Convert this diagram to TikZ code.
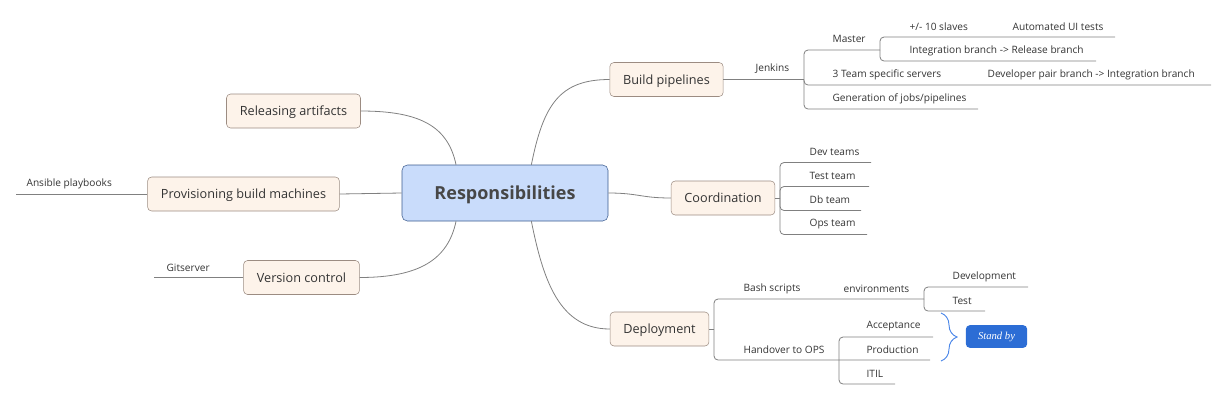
\documentclass[tikz,border=0pt]{standalone}
\usepackage{fontspec}
\setmainfont{Open Sans}
\newfontfamily\standfont{Liberation Serif}
\usetikzlibrary{decorations.pathreplacing}
\definecolor{topicfill}{HTML}{FDF3EA}
\definecolor{topicline}{HTML}{9C8C82}
\definecolor{rootfill}{HTML}{C9DCFB}
\definecolor{rootline}{HTML}{3B5B8E}
\definecolor{textcol}{HTML}{333333}
\definecolor{bracecol}{HTML}{4A86E8}
\definecolor{standfill}{HTML}{2C6DD5}
\newcommand{\linecol}{black!50}
\tikzset{
  topic/.style={draw=topicline, fill=topicfill, rounded corners=3pt, text=textcol,
    font=\fontsize{9.5}{11}\selectfont, inner xsep=10pt, minimum height=25.5pt,
    text height=7pt, text depth=0pt},
  lbl/.style={anchor=west, inner sep=1pt, text=textcol, font=\fontsize{7.6}{9}\selectfont},
  conn/.style={draw=\linecol, line width=0.6pt},
  elbow/.style={draw=\linecol, line width=0.6pt, rounded corners=3pt},
}
\begin{document}
\begin{tikzpicture}[x=0.75pt, y=-0.75pt]

    \useasboundingbox (0,0) rectangle (1230,400);

    % noeud central
    \node[draw=rootline, fill=rootfill, rounded corners=4pt, text=textcol!90,
      font=\fontsize{13.5}{15}\selectfont\bfseries, minimum width=154.5pt,
      minimum height=42pt, text height=9.5pt, text depth=0pt] (resp) at (505,193) {Responsibilities};

    \node[topic] (build) at (666.5,79.5) {Build pipelines};
    \node[topic] (coord) at (723,198) {Coordination};
    \node[topic] (deploy) at (659.5,329) {Deployment};
    \node[topic] (release) at (293.5,111) {Releasing artifacts};
    \node[topic] (prov) at (243.5,194) {Provisioning build machines};
    \node[topic] (vc) at (301.5,277.5) {Version control};

    \draw[conn] (resp.47) .. controls +(12,-60) and +(-50,0) .. (build.west);
    \draw[conn] (resp.east) .. controls +(30,0) and +(-30,0) .. (coord.west);
    \draw[conn] (resp.-47) .. controls +(12,60) and +(-50,0) .. (deploy.west);
    \draw[conn] (resp.150) .. controls +(-8,-38) and +(60,0) .. (release.east);
    \draw[conn] (resp.west) -- (prov.east);
    \draw[conn] (resp.210) .. controls +(-8,38) and +(60,0) .. (vc.east);

    % gauche
    \coordinate (ans) at (16,194);
    \coordinate (git) at (154,277.5);
    \draw[conn] (prov.west) -- (ans);
    \draw[conn] (vc.west) -- (git);
    \node[lbl] (ansl) at (25,184) {Ansible playbooks};
    \node[lbl] (gitl) at (165,268) {Gitserver};

    % build pipelines
    \coordinate (jk) at (804,79.5);
    \coordinate (ms) at (880,50);
    \coordinate (srv) at (1211,85);
    \coordinate (gen) at (978,109);
    \coordinate (slv) at (1115,37);
    \coordinate (intb) at (1096,61);
    \draw[conn] (build.east) -- (jk);
    \draw[elbow] (jk) |- (ms);
    \draw[elbow] (jk) |- (srv);
    \draw[elbow] (jk) |- (gen);
    \draw[elbow] (ms) |- (slv);
    \draw[elbow] (ms) |- (intb);
    \node[lbl] (jkl) at (754,69) {Jenkins};
    \node[lbl] (msl) at (831,39) {Master};
    \node[lbl] (slvl) at (908,27) {+/- 10 slaves};
    \node[lbl] (autl) at (1011,27) {Automated UI tests};
    \node[lbl] (intbl) at (908,51) {Integration branch -> Release branch};
    \node[lbl] (srvl) at (831,75) {3 Team specific servers};
    \node[lbl] (devpl) at (986,75) {Developer pair branch -> Integration branch};
    \node[lbl] (genl) at (831,99) {Generation of jobs/pipelines};

    % coordination
    \coordinate (cj) at (780,198);
    \coordinate (c1) at (871,162.5);
    \coordinate (c2) at (869,186.5);
    \coordinate (c3) at (861,210.5);
    \coordinate (c4) at (867,234.5);
    \draw[conn] (coord.east) -- (cj);
    \foreach \c in {c1,c2,c3,c4}
      \draw[elbow] (cj) |- (\c);
    \node[lbl] (c1l) at (808,152) {Dev teams};
    \node[lbl] (c2l) at (808,176) {Test team};
    \node[lbl] (c3l) at (808,200) {Db team};
    \node[lbl] (c4l) at (808,224) {Ops team};

    % deployment
    \coordinate (dj) at (714,329);
    \coordinate (ej) at (924,299);
    \coordinate (hj) at (839,360);
    \coordinate (prd) at (930,360);
    \coordinate (dev) at (1028,287);
    \coordinate (tst) at (985,311);
    \coordinate (acc) at (933,337);
    \coordinate (itl) at (895,384);
    \draw[conn] (deploy.east) -- (dj);
    \draw[elbow] (dj) |- (ej);
    \draw[elbow] (dj) |- (prd);
    \draw[elbow] (ej) |- (dev);
    \draw[elbow] (ej) |- (tst);
    \draw[elbow] (hj) |- (acc);
    \draw[elbow] (hj) |- (itl);
    \node[lbl] (bashl) at (742,289) {Bash scripts};
    \node[lbl] (envl) at (842,289) {environments};
    \node[lbl] (devl) at (951,277) {Development};
    \node[lbl] (tstl) at (951,301) {Test};
    \node[lbl] (handl) at (742,350) {Handover to OPS};
    \node[lbl] (accl) at (865,326) {Acceptance};
    \node[lbl] (prdl) at (865,350) {Production};
    \node[lbl] (itll) at (865,374) {ITIL};

    % accolade
    \coordinate (br1) at (941,313);
    \coordinate (br2) at (941,361);
    \draw[bracecol, line width=0.7pt, decorate, decoration={brace, amplitude=12pt}] (br1) -- (br2);
    \node[fill=standfill, rounded corners=3pt, text=white, minimum width=46pt,
      minimum height=17pt, inner sep=1pt, font=\standfont\itshape\fontsize{8}{9}\selectfont]
      (stand) at (996.5,336.5) {Stand by};

  \end{tikzpicture}
\end{document}
